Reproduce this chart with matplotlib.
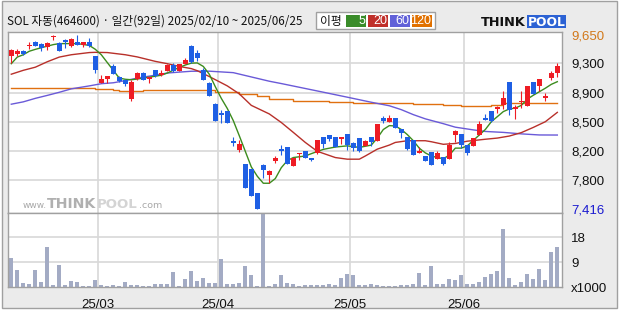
import numpy as np
import matplotlib.pyplot as plt
from matplotlib.patches import Rectangle

# 차트 데이터 (SOL 자동, 일간 92일)
title = "SOL 자동(464600) · 일간(92일) 2025/02/10 ~ 2025/06/25"

opens = [9385, 9405, 9445, 9510, 9565, 9535, 9500, 9625, 9555, 9585,
         9510, 9570, 9520, 9570, 9380, 9040, 9090, 9250, 9115, 9080,
         8835, 9090, 9170, 9085, 9200, 9145, 9190, 9265, 9190, 9280,
         9510, 9420, 9205, 9040, 8770, 8650, 8680, 8295, 8180, 7995,
         7930, 7620, 7985, 7855, 8040, 8185, 8220, 7975, 8120, 8165,
         8075, 8140, 8350, 8375, 8350, 8320, 8385, 8270, 8330, 8230,
         8340, 8295, 8590, 8540, 8590, 8450, 8350, 8310, 8135, 8100,
         8155, 8060, 8090, 8060, 8375, 8385, 8245, 8225, 8365, 8590,
         8680, 8700, 8755, 9055, 8700, 8795, 8740, 9055, 9005, 8850,
         9100, 9165]
highs = [9470, 9470, 9455, 9560, 9575, 9545, 9560, 9650, 9560, 9600,
         9610, 9650, 9570, 9620, 9380, 9145, 9130, 9285, 9130, 9085,
         9070, 9180, 9175, 9115, 9200, 9200, 9285, 9295, 9285, 9355,
         9520, 9455, 9225, 9045, 8775, 8690, 8680, 8345, 8305, 8000,
         7935, 7625, 7995, 7915, 8100, 8245, 8220, 8075, 8140, 8165,
         8080, 8310, 8350, 8375, 8350, 8350, 8385, 8275, 8335, 8300,
         8340, 8510, 8610, 8620, 8590, 8450, 8350, 8310, 8210, 8100,
         8155, 8160, 8090, 8275, 8430, 8385, 8245, 8330, 8555, 8645,
         8680, 8740, 8930, 9055, 8750, 8930, 9005, 9055, 9085, 8915,
         9190, 9300]
lows = [9290, 9380, 9400, 9470, 9510, 9450, 9455, 9595, 9445, 9490,
        9500, 9520, 9500, 9500, 9165, 9040, 9040, 9150, 9050, 9005,
        8805, 9080, 9070, 9040, 9115, 9125, 9185, 9175, 9185, 9280,
        9300, 9325, 9070, 8865, 8555, 8520, 8520, 8230, 8145, 7695,
        7590, 7416, 7820, 7755, 8015, 8110, 7995, 7975, 8045, 8075,
        8030, 8130, 8200, 8290, 8215, 8255, 8180, 8165, 8145, 8225,
        8230, 8295, 8520, 8530, 8455, 8330, 8175, 8115, 8135, 8030,
        7985, 8060, 7980, 8060, 8285, 8200, 8115, 8225, 8365, 8560,
        8530, 8650, 8700, 8630, 8570, 8710, 8740, 8895, 8940, 8805,
        9070, 9110]
closes = [9455, 9445, 9410, 9525, 9510, 9490, 9555, 9640, 9450, 9560,
          9600, 9520, 9570, 9510, 9200, 9090, 9130, 9150, 9060, 9025,
          9055, 9165, 9080, 9110, 9125, 9170, 9265, 9190, 9280, 9330,
          9305, 9360, 9075, 8865, 8555, 8630, 8520, 8265, 8260, 7695,
          7590, 7416, 7925, 7910, 8080, 8160, 7995, 8075, 8140, 8080,
          8045, 8310, 8255, 8315, 8220, 8340, 8245, 8205, 8165, 8295,
          8275, 8510, 8545, 8590, 8455, 8390, 8190, 8115, 8165, 8040,
          7985, 8140, 7995, 8245, 8425, 8235, 8135, 8330, 8510, 8560,
          8545, 8735, 8850, 8695, 8735, 8810, 9005, 8895, 9085, 8875,
          9165, 9250]
# 거래량 (x1000)
volume = [10.6, 6.2, 1.6, 1.1, 6.2, 1.8, 14.5, 0.7, 8.0, 0.7,
          2.2, 1.7, 0.4, 0.4, 2.5, 0.7, 0.5, 0.6, 0.5, 1.8,
          0.8, 0.7, 0.4, 0.4, 1.1, 1.1, 1.1, 5.4, 0.4, 3.0,
          5.8, 2.2, 3.4, 1.4, 1.4, 10.1, 1.0, 1.2, 1.6, 7.6,
          4.3, 0.4, 26.7, 0.5, 1.0, 4.3, 1.3, 1.0, 0.5, 0.7,
          0.6, 0.7, 0.6, 1.1, 0.6, 3.4, 4.7, 4.3, 0.7, 0.7,
          1.0, 0.7, 0.4, 0.5, 0.5, 0.6, 0.6, 1.1, 5.1, 0.7,
          7.6, 1.1, 1.1, 2.9, 2.4, 4.3, 1.1, 1.1, 1.8, 3.6,
          4.7, 5.8, 20.8, 3.3, 0.7, 1.8, 4.7, 3.0, 6.5, 2.5,
          12.7, 14.3]

# 이동평균선
ma5_idx = [0, 1, 2, 3, 4, 5, 6, 7, 8, 9, 11, 13, 14, 15, 16, 17, 18, 19, 20, 21,
           23, 25, 26, 28, 29, 30, 31, 32, 33, 34, 35, 36, 37, 38, 39, 40, 41, 42,
           43, 44, 45, 46, 47, 49, 50, 52, 54, 56, 58, 60, 61, 62, 63, 64, 65, 66,
           67, 68, 69, 70, 71, 72, 73, 74, 75, 76, 77, 78, 79, 80, 81, 82, 83, 84,
           85, 86, 87, 88, 89, 90, 91]
ma5 = [9285, 9370, 9400, 9445, 9469, 9490, 9510, 9530, 9543, 9543, 9543, 9520,
       9470, 9400, 9300, 9200, 9100, 9085, 9079, 9088, 9112, 9137, 9165, 9238,
       9268, 9292, 9295, 9250, 9150, 8990, 8840, 8710, 8554, 8360, 8160, 7960,
       7840, 7750, 7750, 7810, 7950, 8040, 8080, 8100, 8130, 8185, 8215, 8230,
       8210, 8240, 8330, 8440, 8490, 8485, 8440, 8375, 8296, 8200, 8140, 8100,
       8080, 8065, 8110, 8201, 8201, 8230, 8300, 8370, 8440, 8540, 8605, 8670,
       8704, 8715, 8750, 8830, 8880, 8925, 8970, 9020, 9054]
ma20_idx = [0, 2, 4, 6, 8, 10, 13, 14, 16, 19, 21, 24, 26, 28, 30, 31, 33, 36, 38,
            40, 43, 45, 47, 49, 51, 54, 56, 58, 59, 61, 63, 64, 66, 69, 70, 72, 74,
            76, 79, 81, 83, 85, 87, 89, 91]
ma20 = [9150, 9200, 9240, 9310, 9370, 9400, 9428, 9431, 9428, 9400, 9372, 9315,
        9285, 9250, 9222, 9195, 9120, 9000, 8898, 8750, 8640, 8530, 8403, 8274,
        8160, 8080, 8059, 8059, 8100, 8188, 8240, 8274, 8296, 8296, 8283, 8250,
        8261, 8290, 8315, 8330, 8356, 8400, 8467, 8540, 8660]
ma60_idx = [0, 2, 4, 6, 8, 10, 13, 15, 17, 19, 21, 24, 26, 28, 30, 33, 37, 40, 43,
            45, 52, 56, 60, 63, 65, 67, 69, 72, 74, 77, 79, 82, 85, 88, 91]
ma60 = [8765, 8795, 8840, 8878, 8918, 8962, 9000, 9028, 9040, 9068, 9100, 9138,
        9165, 9177, 9188, 9189, 9170, 9115, 9060, 9030, 8919, 8855, 8790, 8745,
        8695, 8631, 8577, 8515, 8470, 8435, 8415, 8403, 8384, 8370, 8369]
ma120_idx = [0, 14, 17, 18, 22, 34, 38, 41, 43, 47, 53, 57, 64, 67, 72, 75, 80, 82, 91]
ma120 = [8975, 8962, 8950, 8937, 8950, 8919, 8898, 8872, 8833, 8812, 8799, 8782,
         8786, 8769, 8760, 8743, 8760, 8777, 8777]

price_ticks = [9290, 8915, 8540, 8165, 7790]
price_labels = ['9,300', '8,900', '8,500', '8,200', '7,800']
price_hi, price_lo = 9650, 7416
vol_ticks = [0, 9, 18]
vol_labels = ['x1000', '9', '18']
month_first = [15, 35, 57, 76]
month_labels = ['25/03', '25/04', '25/05', '25/06']

RED = '#ee1c24'
BLUE = '#1e5fe4'
GRID = '#d8d8d8'
EDGE = '#a0a0a0'
NUMFONT = 'Liberation Sans'

W, H = 620, 310
fig = plt.figure(figsize=(W / 100, H / 100), dpi=100, facecolor='white')
fig.patches.append(Rectangle((2 / W, 2 / H), 615 / W, 307 / H, transform=fig.transFigure,
                             facecolor='#ebebeb', edgecolor=EDGE, lw=1, zorder=-10))

ax = fig.add_axes([7.5 / W, (H - 213) / H, 554.5 / W, 181 / H])
axv = fig.add_axes([7.5 / W, (H - 287) / H, 554.5 / W, 74 / H])

n = len(closes)
x = np.arange(n)
o = np.array(opens)
c = np.array(closes)
col = np.where(c >= o, RED, BLUE)

# 격자
for v in price_ticks:
    ax.axhline(v, color=GRID, lw=1.2, zorder=0)
for m in month_first:
    ax.axvline(m - 0.5, color=GRID, lw=1.2, zorder=0)
    axv.axvline(m - 0.5, color=GRID, lw=1.2, zorder=0)
for v in vol_ticks[1:]:
    axv.axhline(v, color=GRID, lw=1.2, zorder=0)

# 이동평균선
ax.plot(ma120_idx, ma120, color='#e07010', lw=1.0, drawstyle='steps-post', zorder=2)
ax.plot(ma60_idx, ma60, color='#6a5ad8', lw=1.0, zorder=2)
ax.plot(ma20_idx, ma20, color='#b8302a', lw=1.0, zorder=2)
ax.plot(ma5_idx, ma5, color='#3c8c1e', lw=1.0, zorder=2)

# 캔들
ax.vlines(x, lows, highs, colors=col, lw=0.8, zorder=3)
ax.bar(x, np.maximum(np.abs(c - o), 12), 0.8, bottom=np.minimum(o, c), color=col,
       lw=0, zorder=4)

ax.set_xlim(-0.63, 91.78)
ax.set_ylim(7368, 9692)
ax.set_xticks([])
ax.yaxis.tick_right()
ax.set_yticks([price_hi] + price_ticks + [price_lo],
              ['9,650'] + price_labels + ['7,416'])
ax.tick_params(axis='y', length=0, pad=6.5, labelsize=9.5)
for t in ax.get_yticklabels():
    t.set_family(NUMFONT)
    t.set_color('#111111')
ax.get_yticklabels()[0].set_color('#d2781a')
ax.get_yticklabels()[-1].set_color('#1a1ad0')

# 거래량
axv.bar(x, volume, 0.65, color='#a3abc4', lw=0, zorder=2)
axv.set_xlim(-0.63, 91.78)
axv.set_ylim(0, 26.75)
axv.yaxis.tick_right()
axv.set_yticks(vol_ticks, vol_labels)
axv.set_xticks([m - 0.5 for m in month_first], month_labels)
axv.tick_params(axis='y', length=0, pad=6.5, labelsize=9.5)
axv.tick_params(axis='x', length=0, pad=9, labelsize=9.5)
for t in axv.get_yticklabels() + axv.get_xticklabels():
    t.set_family(NUMFONT)
    t.set_color('#111111')

for a in (ax, axv):
    a.set_facecolor('white')
    for s in a.spines.values():
        s.set_color(EDGE)
        s.set_linewidth(1.0)

# 제목, 범례, 로고
deco = fig.add_axes([0, 0, 1, 1])
deco.set_xlim(0, W)
deco.set_ylim(H, 0)
deco.axis('off')
kr = ['Noto Sans CJK KR', 'DejaVu Sans']
deco.text(7, 21.5, title, ha='left', va='center', fontsize=8.4, family=kr, color='#111111')

deco.add_patch(Rectangle((316, 12.3), 119.4, 17, facecolor='white', edgecolor=EDGE, lw=1))
deco.text(320, 21, '이평', ha='left', va='center', fontsize=8.5, family=kr, color='#111111')
for bx, lab, bc in [(346, '5', '#3a8c2a'), (368, '20', '#c0302a'),
                    (390, '60', '#6060d8'), (412, '120', '#e07000')]:
    deco.add_patch(Rectangle((bx, 15), 20, 11.7, facecolor=bc, lw=0))
    deco.text(bx + 19, 21, lab, ha='right', va='center', fontsize=9,
              family=NUMFONT, color='white')

deco.text(481, 22, 'THINK', ha='left', va='center', fontsize=9.3, weight='bold',
          family='DejaVu Sans', color='#111111')
deco.add_patch(Rectangle((527, 15), 39, 13, facecolor='#2c62d4', lw=0))
deco.text(546.5, 22, 'POOL', ha='center', va='center', fontsize=8.8, weight='bold',
          family='DejaVu Sans', color='white')

# 워터마크
deco.text(23, 208, 'www.', ha='left', va='baseline', fontsize=6.5, family='DejaVu Sans', color='#a8a8a8')
deco.text(47, 208, 'THINK', ha='left', va='baseline', fontsize=10.2, weight='bold',
          family='DejaVu Sans', color='#b0b0b0')
deco.text(97, 208, 'POOL', ha='left', va='baseline', fontsize=9.6, weight='bold',
          family='DejaVu Sans', color='#d4d4d4')
deco.text(139, 208, '.com', ha='left', va='baseline', fontsize=6.8, family='DejaVu Sans', color='#a8a8a8')

fig.savefig('out.png', dpi=100, facecolor=fig.get_facecolor())
